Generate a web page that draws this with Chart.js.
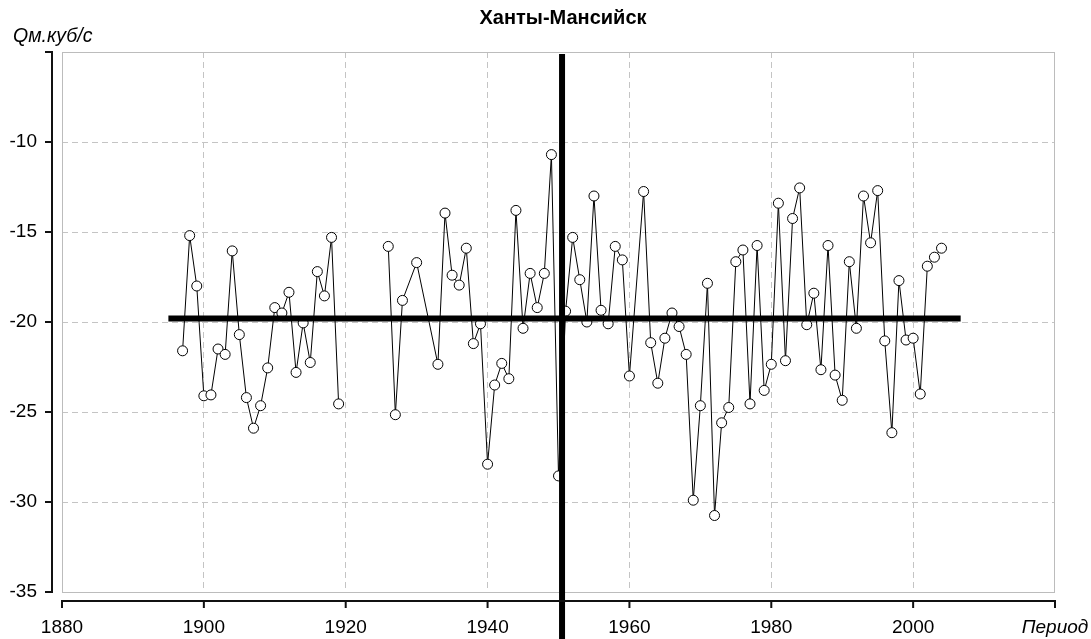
<!DOCTYPE html>
<html>
<head>
<meta charset="utf-8">
<script src="https://cdn.jsdelivr.net/npm/chart.js@4/dist/chart.umd.min.js"></script>
<style>
  html, body { margin: 0; padding: 0; background: #fff; }
  #chart { display: block; }
</style>
</head>
<body>
<canvas id="chart" width="1091" height="639"></canvas>
<script>
// Ханты-Мансийск, Q м.куб/с by year
const titleText = 'Ханты-Мансийск';
const yTitle = 'Qм.куб/с';
const xTitle = 'Период';

const years = [
  1897, 1898, 1899, 1900, 1901, 1902, 1903, 1904, 1905, 1906, 1907, 1908,
  1909, 1910, 1911, 1912, 1913, 1914, 1915, 1916, 1917, 1918, 1919, 1920,
  1926, 1927, 1928, 1930, 1933, 1934, 1935, 1936, 1937, 1938, 1939, 1940,
  1941, 1942, 1943, 1944, 1945, 1946, 1947, 1948, 1949, 1950, 1951, 1952,
  1953, 1954, 1955, 1956, 1957, 1958, 1959, 1960, 1962, 1963, 1964, 1965,
  1966, 1967, 1968, 1969, 1970, 1971, 1972, 1973, 1974, 1975, 1976, 1977,
  1978, 1979, 1980, 1981, 1982, 1983, 1984, 1985, 1986, 1987, 1988, 1989,
  1990, 1991, 1992, 1993, 1994, 1995, 1996, 1997, 1998, 1999, 2000, 2001,
  2002, 2003, 2004
];
// null = no record (gap 1920-1925)
const flow = [
  -21.6, -15.2, -18.0, -24.1, -24.05, -21.5, -21.8, -16.05, -20.7, -24.2, -25.9, -24.65,
  -22.55, -19.2, -19.5, -18.35, -22.8, -20.05, -22.25, -17.2, -18.55, -15.3, -24.55, null,
  -15.8, -25.15, -18.8, -16.7, -22.35, -13.95, -17.4, -17.95, -15.9, -21.2, -20.1, -27.9,
  -23.5, -22.3, -23.15, -13.8, -20.35, -17.3, -19.2, -17.3, -10.7, -28.55, -19.4, -15.3,
  -17.65, -20.0, -13.0, -19.35, -20.1, -15.8, -16.55, -23.0, -12.75, -21.15, -23.4, -20.9,
  -19.5, -20.25, -21.8, -29.9, -24.65, -17.85, -30.75, -25.6, -24.75, -16.65, -16.0, -24.55,
  -15.75, -23.8, -22.35, -13.4, -22.15, -14.25, -12.55, -20.15, -18.4, -22.65, -15.75, -22.95,
  -24.35, -16.65, -20.35, -13.0, -15.6, -12.7, -21.05, -26.15, -17.7, -21.0, -20.9, -24.0,
  -16.9, -16.4, -15.9
];

// mean level and split year (thick black lines)
const meanValue = -19.8;
const meanSpan = [1895, 2006.7];
const splitYear = 1950.5;

const xRange = [1880, 2020];
const yRange = [-35, -5];
const xStep = 20;
const yStep = 5;

const font = '"Liberation Sans", Arial, sans-serif';

// axes drawn offset from the plot frame, plus frame, titles, split line
const decor = {
  id: 'decor',
  beforeDatasetsDraw(chart) {
    const { ctx, chartArea: a } = chart;
    ctx.save();
    ctx.strokeStyle = '#bcbcbc';
    ctx.lineWidth = 1;
    ctx.strokeRect(a.left + 0.5, a.top + 0.5, a.right - a.left - 1, a.bottom - a.top);
    ctx.restore();
  },
  afterDatasetsDraw(chart) {
    const { ctx, chartArea: a, scales: { x, y } } = chart;
    ctx.save();
    // split line
    const sx = x.getPixelForValue(splitYear);
    ctx.strokeStyle = '#000';
    ctx.lineWidth = 6;
    ctx.beginPath();
    ctx.moveTo(sx, a.top + 2);
    ctx.lineTo(sx, chart.height);
    ctx.stroke();

    // y axis
    const ax = a.left - 10;
    ctx.lineWidth = 2;
    ctx.strokeStyle = '#111';
    ctx.beginPath();
    ctx.moveTo(ax, y.getPixelForValue(yRange[1]));
    ctx.lineTo(ax, y.getPixelForValue(yRange[0]));
    for (let v = yRange[0]; v <= yRange[1]; v += yStep) {
      const py = y.getPixelForValue(v);
      ctx.moveTo(ax - 7, py);
      ctx.lineTo(ax + 1, py);
    }
    ctx.stroke();

    // x axis
    const ay = a.bottom + 9;
    ctx.beginPath();
    ctx.moveTo(x.getPixelForValue(xRange[0]), ay);
    ctx.lineTo(x.getPixelForValue(xRange[1]), ay);
    for (let v = xRange[0]; v <= xRange[1]; v += xStep) {
      const px = x.getPixelForValue(v);
      ctx.moveTo(px, ay - 1);
      ctx.lineTo(px, ay + 7);
    }
    ctx.stroke();

    // titles
    ctx.fillStyle = '#000';
    ctx.textBaseline = 'middle';
    ctx.textAlign = 'center';
    ctx.font = 'bold 20px ' + font;
    ctx.fillText(titleText, 563, 18);
    ctx.textAlign = 'left';
    ctx.font = 'italic 19.5px ' + font;
    ctx.fillText(yTitle, 13, 37);
    ctx.restore();
  }
};

const series = years.map((yr, i) => ({ x: yr, y: flow[i] }));

new Chart(document.getElementById('chart'), {
  type: 'line',
  data: {
    datasets: [
      {
        data: [{ x: meanSpan[0], y: meanValue }, { x: meanSpan[1], y: meanValue }],
        borderColor: '#000',
        borderWidth: 6,
        pointRadius: 0,
        order: 0
      },
      {
        data: series,
        borderColor: '#000',
        borderWidth: 1,
        pointRadius: 5,
        pointBackgroundColor: '#fff',
        pointBorderColor: '#000',
        pointBorderWidth: 1,
        tension: 0,
        spanGaps: false,
        order: 1
      }
    ]
  },
  options: {
    responsive: false,
    animation: false,
    layout: { padding: { top: 52, right: 36, left: 0, bottom: 0 } },
    plugins: { legend: { display: false }, tooltip: { enabled: false } },
    scales: {
      x: {
        type: 'linear',
        min: xRange[0],
        max: xRange[1],
        afterFit: s => { s.height = 47; s.paddingLeft = 0; s.paddingRight = 0; },
        afterBuildTicks: s => {
          s.ticks = [];
          for (let v = xRange[0]; v <= xRange[1]; v += xStep) s.ticks.push({ value: v });
        },
        grid: {
          drawTicks: false,
          color: c => (c.tick && (c.tick.value === xRange[0] || c.tick.value === xRange[1])) ? 'rgba(0,0,0,0)' : '#c4c4c4',
          lineWidth: 1
        },
        border: { display: false, dash: [6, 4] },
        ticks: {
          padding: 24,
          color: '#000',
          maxRotation: 0,
          autoSkip: false,
          font: c => ({ family: font, size: 19, style: (c.tick && c.tick.value === xRange[1]) ? 'italic' : 'normal' }),
          callback: v => v === xRange[1] ? xTitle : String(v)
        }
      },
      y: {
        type: 'linear',
        min: yRange[0],
        max: yRange[1],
        afterFit: s => { s.width = 62; s.paddingTop = 0; s.paddingBottom = 0; },
        grid: {
          drawTicks: false,
          color: c => (c.tick && (c.tick.value === yRange[0] || c.tick.value === yRange[1])) ? 'rgba(0,0,0,0)' : '#c4c4c4',
          lineWidth: 1
        },
        border: { display: false, dash: [6, 4] },
        ticks: {
          stepSize: yStep,
          padding: 25,
          color: '#000',
          font: { family: font, size: 19 },
          callback: v => v === yRange[1] ? '' : String(v)
        }
      }
    }
  },
  plugins: [decor]
});
</script>
</body>
</html>
